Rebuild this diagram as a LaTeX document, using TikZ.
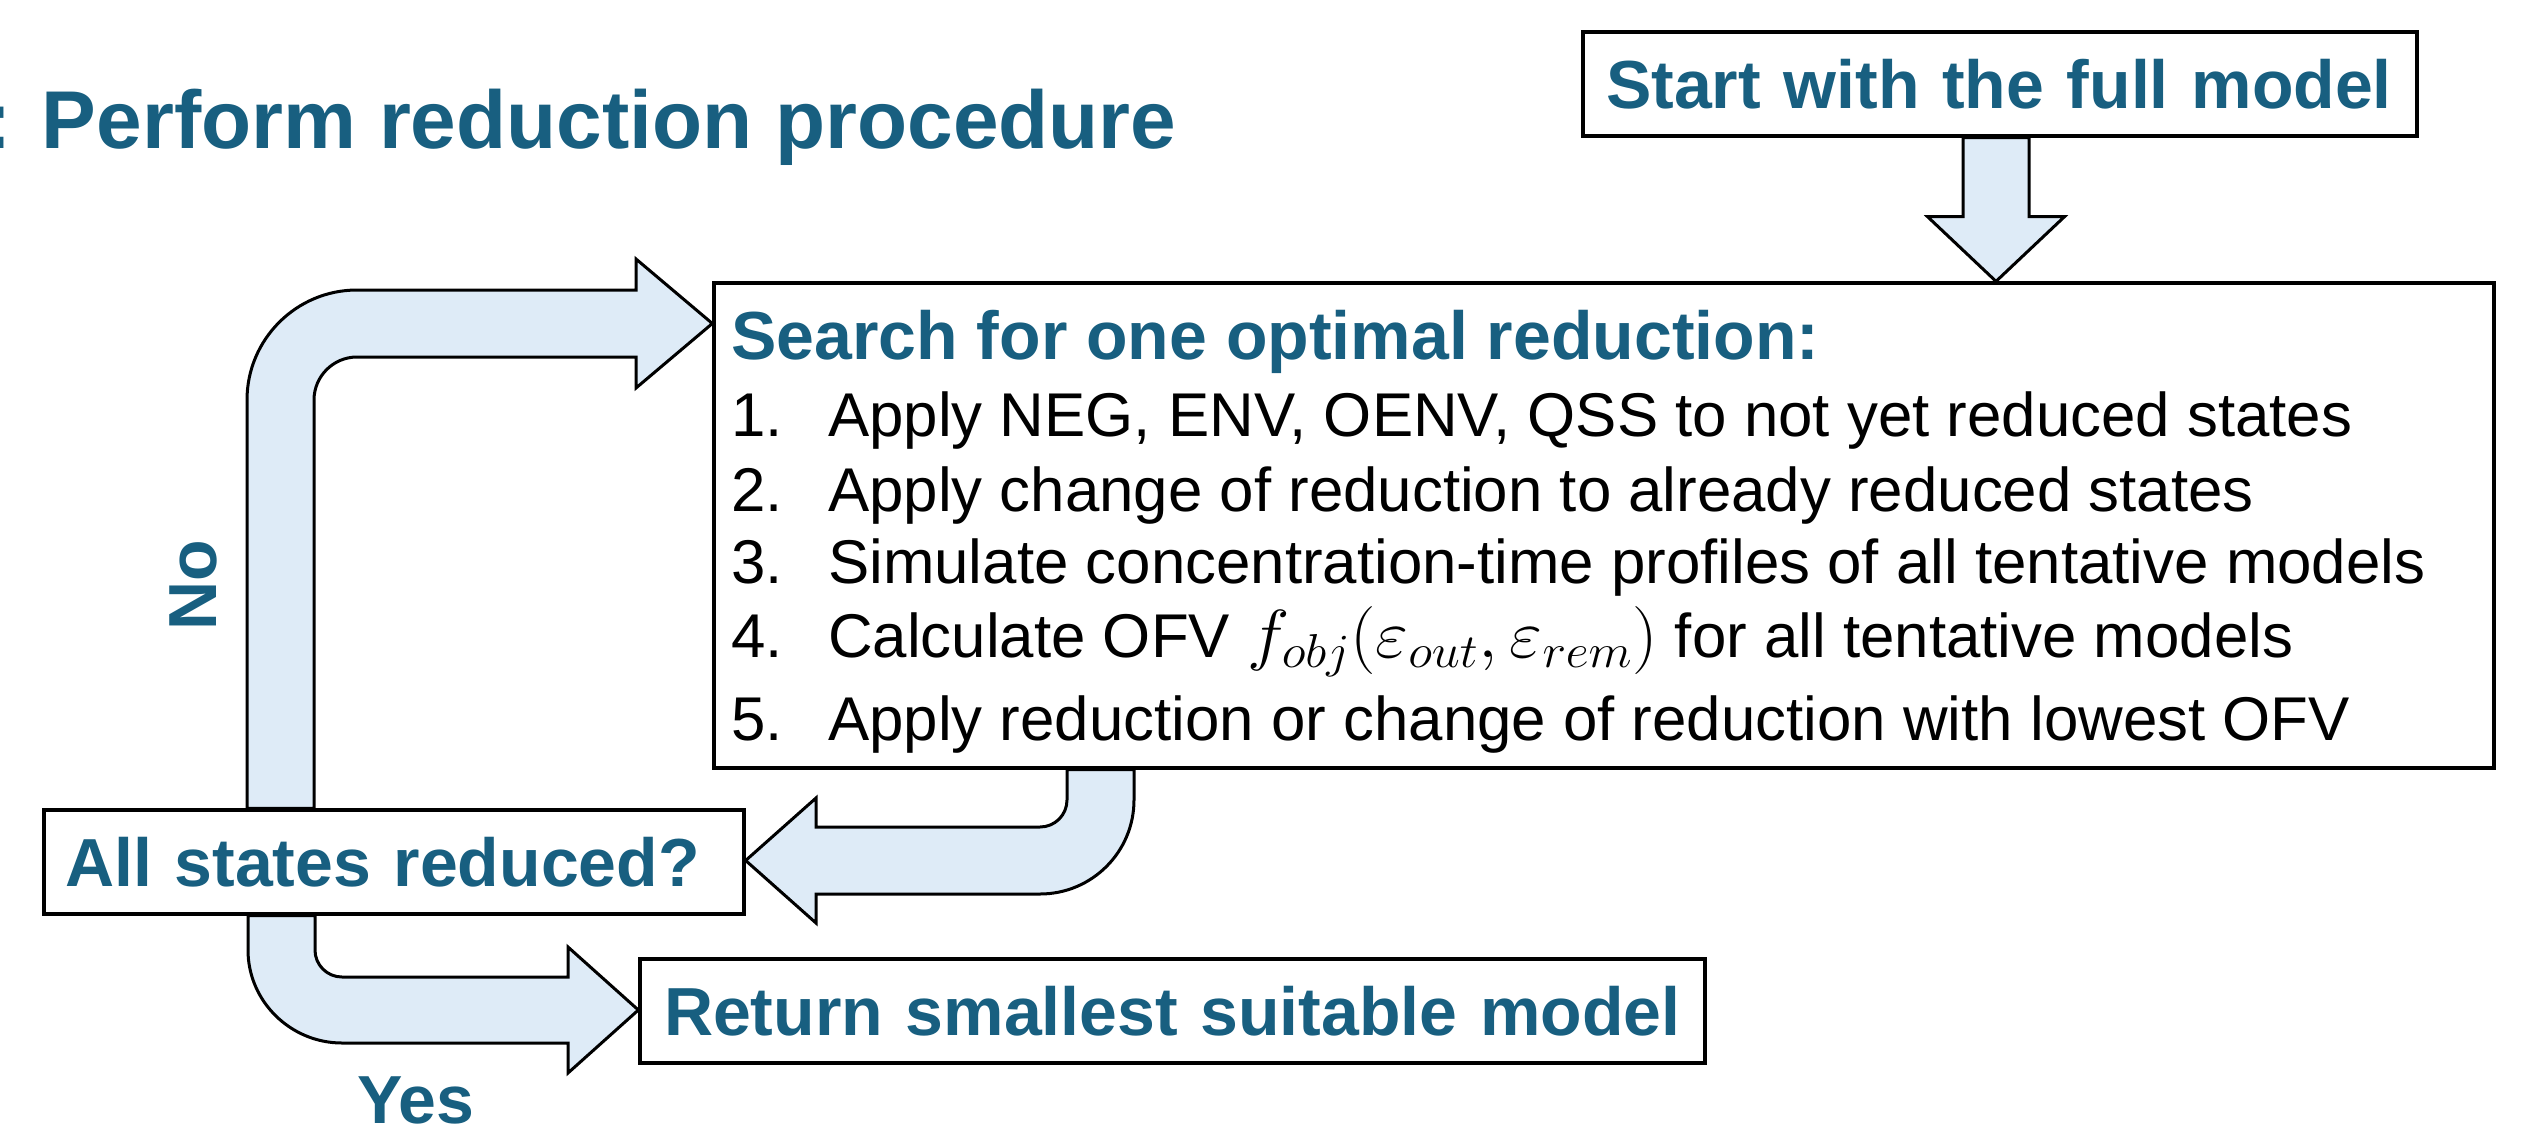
\RequirePackage{fix-cm}
\documentclass[tikz,border=0pt]{standalone}
\usepackage{fontspec}
\usepackage{graphicx}
\setmainfont{Liberation Sans}
\usetikzlibrary{calc,backgrounds}
\definecolor{headcol}{RGB}{24,95,128}
\definecolor{arrowfill}{RGB}{222,235,247}
\tikzset{
  box/.style={draw=black, line width=3.3pt, fill=white, inner ysep=0pt},
  bigarrow/.style={draw=black, line width=3pt, fill=arrowfill, line join=miter},
  headtext/.style={font=\fontsize{68}{80}\selectfont\bfseries, text=headcol},
  head/.style={headtext, inner sep=0pt, anchor=base west},
  item/.style={font=\fontsize{61.8}{72}\selectfont, text=black, inner sep=0pt, anchor=base west},
}
\begin{document}
\begin{tikzpicture}[x=1pt,y=-1pt]
\useasboundingbox (0,0) rectangle (2526,1125);

% title
\node[font=\fontsize{82}{96}\selectfont\bfseries, text=headcol, inner sep=0pt, anchor=base west] (title) at (-16,148) {: Perform reduction procedure};

% boxes
\node[box, headtext, minimum width=834pt, minimum height=104pt, text width=788pt, inner xsep=23pt, align=left] (start) at (2000,84) {Start with the full model};
\node[box, minimum width=1780pt, minimum height=485pt] (search) at (1604,525.5) {};
\node[box, headtext, minimum width=700pt, minimum height=104pt, text width=658pt, inner xsep=21pt, align=left] (allstates) at (394,862) {All states reduced?};
\node[box, headtext, minimum width=1065pt, minimum height=104pt, text width=1017pt, inner xsep=24pt, align=left] (ret) at (1172.5,1011) {Return smallest suitable model};

% search box content
\node[head] (stitle) at (731,359) {Search for one optimal reduction:};
\node[item] (i1) at (731,436) {\makebox[97pt][l]{1.}Apply NEG, ENV, OENV, QSS to not yet reduced states};
\node[item] (i2) at (731,511) {\makebox[97pt][l]{2.}Apply change of reduction to already reduced states};
\node[item] (i3) at (731,583) {\makebox[97pt][l]{3.}Simulate concentration-time profiles of all tentative models};
\node[item] (i4) at (731,657) {\makebox[97pt][l]{4.}Calculate OFV \scalebox{1.16}[1.1]{$f_{obj}(\varepsilon_{out},\varepsilon_{rem})$} for all tentative models};
\node[item] (i5) at (731,740) {\makebox[97pt][l]{5.}Apply reduction or change of reduction with lowest OFV};

% labels
\node[headtext, inner sep=0pt, anchor=center, rotate=90] (nolab) at (193,585) {No};
\node[head] (yeslab) at (357,1123) {Yes};

\begin{pgfonlayer}{background}
% start -> search
\coordinate (sdown) at ($(start.south)+(-4,0)$);
\draw[bigarrow] ($(sdown)+(-33,0)$) -- ++(0,79) -- ++(-35.5,0) -- (sdown |- search.north)
  -- ($(sdown)+(68.5,79)$) -- ++(-35.5,0) -- ($(sdown)+(33,0)$) -- cycle;
% No loop: allstates -> search
\draw[bigarrow] (247,0 |- allstates.north) -- (247,400) .. controls +(0,-60.7) and +(-60.7,0) .. (357,290)
  -- (636,290) -- (636,259) -- (search.west |- 0,323.5) -- (636,388) -- (636,357)
  -- (357,357) .. controls +(-23.7,0) and +(0,-23.7) .. (314,400) -- (314,0 |- allstates.north) -- cycle;
% search -> allstates
\draw[bigarrow] (1067,0 |- search.south) -- (1067,800) .. controls +(0,14.9) and +(14.9,0) .. (1040,827)
  -- (816,827) -- (816,798) -- (allstates.east |- 0,860.5) -- (816,923) -- (816,894)
  -- (1040,894) .. controls +(51.9,0) and +(0,51.9) .. (1134,800) -- (1134,0 |- search.south) -- cycle;
% Yes: allstates -> ret
\draw[bigarrow] (315,0 |- allstates.south) -- (315,950) .. controls +(0,14.9) and +(-14.9,0) .. (342,977)
  -- (568,977) -- (568,947) -- (ret.west |- 0,1010) -- (568,1073) -- (568,1043)
  -- (342,1043) .. controls +(-51.4,0) and +(0,51.4) .. (248,950) -- (248,0 |- allstates.south) -- cycle;
\end{pgfonlayer}
\end{tikzpicture}
\end{document}
